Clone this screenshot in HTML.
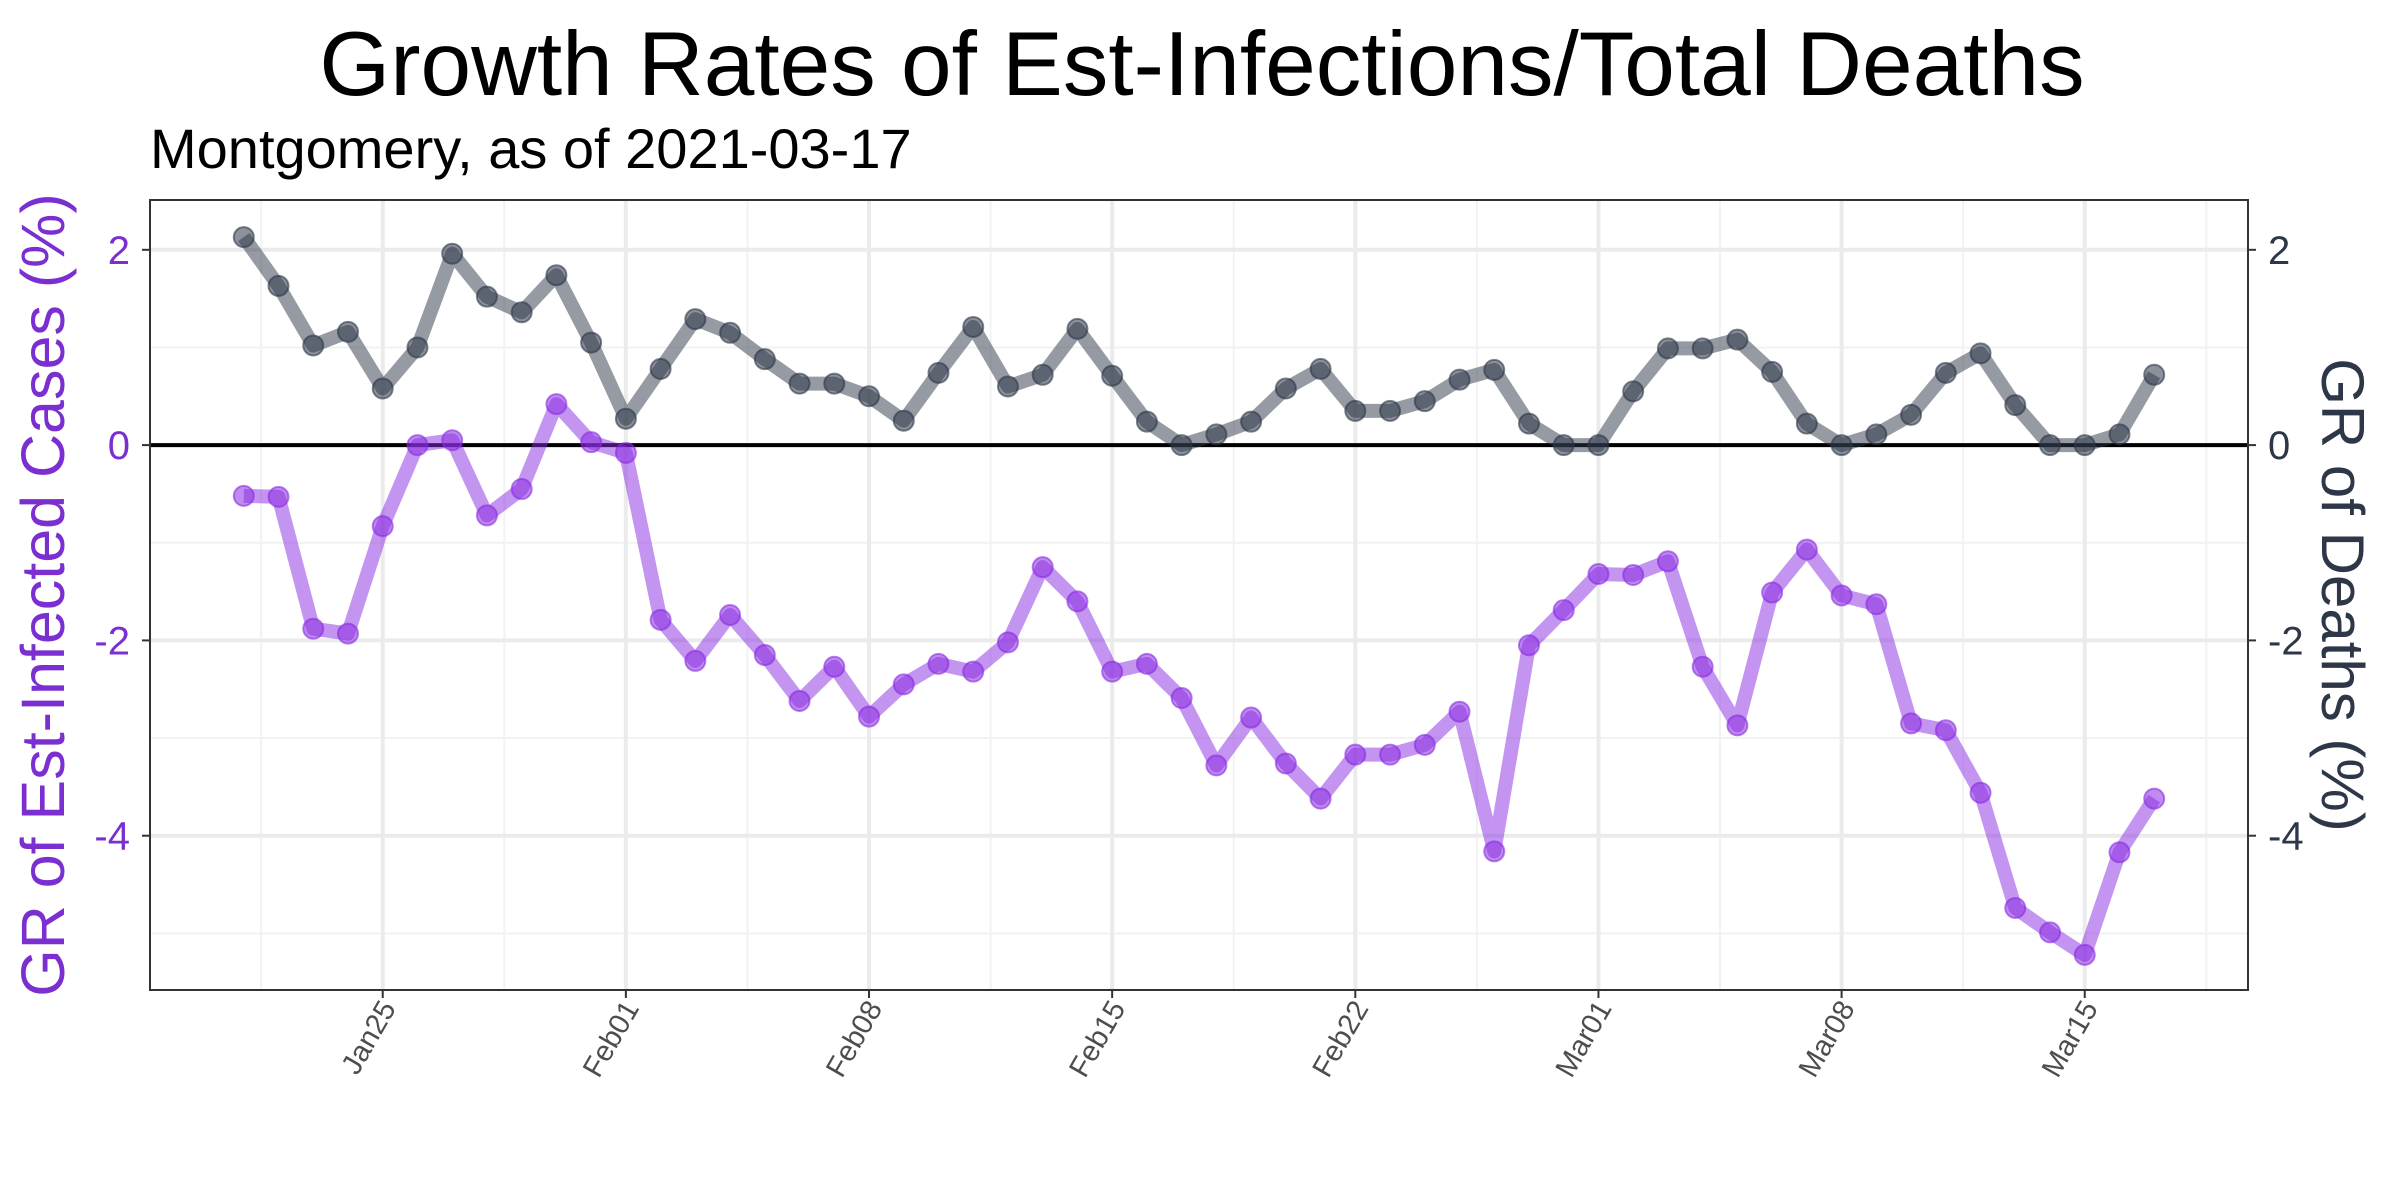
<!DOCTYPE html>
<html><head><meta charset="utf-8"><style>
html,body{margin:0;padding:0;background:#fff;}
svg{display:block;font-family:"Liberation Sans",Arial,sans-serif;}
</style></head><body>
<svg id="chart" width="2400" height="1200" viewBox="0 0 2400 1200">
<text x="1202" y="95" font-size="91" text-anchor="middle" fill="#000">Growth Rates of Est-Infections/Total Deaths</text>
<text x="150" y="168" font-size="56" fill="#000">Montgomery, as of 2021-03-17</text>
<text transform="translate(64,595) rotate(-90)" font-size="61" text-anchor="middle" fill="#7b2fd0">GR of Est-Infected Cases (%)</text>
<text transform="translate(2322,595) rotate(90)" font-size="60" text-anchor="middle" fill="#2d3748">GR of Deaths (%)</text>
<g id="grid"></g><g id="series"></g><g id="axes"></g>
</svg>
<script>
const dates=["Jan21","Jan22","Jan23","Jan24","Jan25","Jan26","Jan27","Jan28","Jan29","Jan30","Jan31","Feb01","Feb02","Feb03","Feb04","Feb05","Feb06","Feb07","Feb08","Feb09","Feb10","Feb11","Feb12","Feb13","Feb14","Feb15","Feb16","Feb17","Feb18","Feb19","Feb20","Feb21","Feb22","Feb23","Feb24","Feb25","Feb26","Feb27","Feb28","Mar01","Mar02","Mar03","Mar04","Mar05","Mar06","Mar07","Mar08","Mar09","Mar10","Mar11","Mar12","Mar13","Mar14","Mar15","Mar16","Mar17"];
const infections=[-0.52,-0.53,-1.88,-1.93,-0.83,0.0,0.05,-0.72,-0.45,0.42,0.03,-0.08,-1.79,-2.21,-1.74,-2.15,-2.62,-2.27,-2.78,-2.45,-2.24,-2.32,-2.02,-1.25,-1.6,-2.32,-2.24,-2.59,-3.28,-2.79,-3.26,-3.62,-3.17,-3.17,-3.07,-2.73,-4.16,-2.05,-1.69,-1.32,-1.33,-1.19,-2.27,-2.87,-1.51,-1.07,-1.54,-1.63,-2.85,-2.92,-3.56,-4.74,-4.99,-5.22,-4.17,-3.62];
const deaths=[2.13,1.63,1.02,1.16,0.58,1.0,1.96,1.52,1.36,1.74,1.05,0.27,0.78,1.29,1.15,0.88,0.63,0.63,0.5,0.25,0.74,1.21,0.6,0.72,1.19,0.71,0.24,0.0,0.11,0.24,0.58,0.78,0.35,0.35,0.45,0.67,0.77,0.22,0,0,0.55,0.99,0.99,1.08,0.75,0.22,0,0.11,0.31,0.74,0.94,0.41,0,0,0.11,0.72];
const xTickLabels=["Jan25","Feb01","Feb08","Feb15","Feb22","Mar01","Mar08","Mar15"];
const yTicks=[-4,-2,0,2];
const yMinor=[-5,-3,-1,1];
const L=150,R=2248,T=200,B=990, X0=-2.7,X1=57.7, Y0=-5.58,Y1=2.51;
const xs=i=>L+(i-X0)/(X1-X0)*(R-L);
const ys=v=>B-(v-Y0)/(Y1-Y0)*(B-T);
const NS="http://www.w3.org/2000/svg";
function mk(t,a,p){const e=document.createElementNS(NS,t);for(const k in a)e.setAttribute(k,a[k]);p.appendChild(e);return e;}
const grid=document.getElementById('grid'),ser=document.getElementById('series'),ax=document.getElementById('axes');
yMinor.forEach(v=>{const l=mk('line',{x1:L,x2:R,y1:ys(v),y2:ys(v),stroke:'#f2f2f2','stroke-width':2},grid);

});
xTickLabels.concat(["Mar22"]).forEach((d,k)=>{const i=(k<xTickLabels.length?dates.indexOf(d):dates.indexOf("Mar15")+7)-3.5;const l=mk('line',{x1:xs(i),x2:xs(i),y1:T,y2:B,stroke:'#f2f2f2','stroke-width':2},grid);

});
yTicks.forEach(v=>{const l=mk('line',{x1:L,x2:R,y1:ys(v),y2:ys(v),stroke:'#ebebeb','stroke-width':4},grid);

});
xTickLabels.forEach(d=>{const i=dates.indexOf(d);const l=mk('line',{x1:xs(i),x2:xs(i),y1:T,y2:B,stroke:'#ebebeb','stroke-width':4},grid);

});
const z=mk('line',{x1:L,x2:R,y1:ys(0),y2:ys(0),stroke:'#000','stroke-width':4},ser);


function series(vals,col,name){
 const pl=mk('polyline',{points:vals.map((v,i)=>xs(i)+','+ys(v)).join(' '),fill:'none',stroke:col,'stroke-opacity':0.5,'stroke-width':14,'stroke-linejoin':'round'},ser);
 
 
 vals.forEach((v,i)=>{const c=mk('circle',{cx:xs(i),cy:ys(v),r:10,fill:col,'fill-opacity':0.55,stroke:col,'stroke-opacity':0.6,'stroke-width':2},ser);
 
 });
}
series(deaths,'#2d3748','deaths');
series(infections,'#8a2be2','infections');
const fr=mk('rect',{x:L,y:T,width:R-L,height:B-T,fill:'none',stroke:'#333','stroke-width':2},ax);


yTicks.forEach(v=>{
 const t=mk('text',{x:L-20,y:ys(v)+14,'font-size':40,'text-anchor':'end',fill:'#7b2fd0'},ax);t.textContent=v;
 
 
 mk('line',{x1:L-8,x2:L,y1:ys(v),y2:ys(v),stroke:'#333','stroke-width':2},ax);
 const t2=mk('text',{x:R+20,y:ys(v)+14,'font-size':40,fill:'#2d3748'},ax);t2.textContent=v;
 
 
 mk('line',{x1:R,x2:R+8,y1:ys(v),y2:ys(v),stroke:'#333','stroke-width':2},ax);
});
xTickLabels.forEach(d=>{const x=xs(dates.indexOf(d));
 mk('line',{x1:x,x2:x,y1:B,y2:B+8,stroke:'#333','stroke-width':2},ax);
 const t=mk('text',{transform:`translate(${x+14},${B+18}) rotate(-60)`,'font-size':29,'text-anchor':'end',fill:'#4d4d4d'},ax);t.textContent=d;
 
 
});
</script>
</body></html>
